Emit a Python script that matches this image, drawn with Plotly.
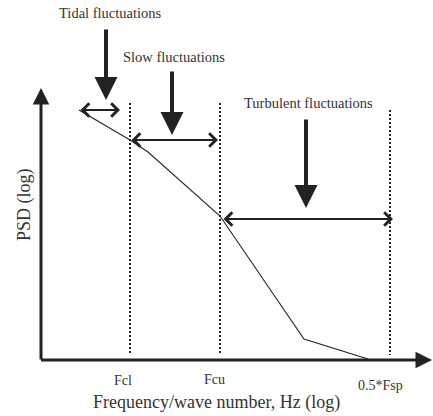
import plotly.graph_objects as go

# ---- data (schematic spectrum, arbitrary log units) ----
spec_x = [38, 89, 107, 179, 263, 327]
spec_y = [250, 220, 208, 144, 21, 1]

cut_x = [89, 179, 349]
cut_labels = ["Fcl", "Fcu", "0.5*Fsp"]

band_labels = ["Tidal fluctuations", "Slow fluctuations", "Turbulent fluctuations"]

FONT = "Liberation Serif"
INK = "#222222"
TXT = "#333333"

fig = go.Figure()
fig.add_trace(go.Scatter(x=spec_x, y=spec_y, mode="lines",
                         line=dict(color=INK, width=1.1), hoverinfo="skip",
                         showlegend=False))

shapes = []
ann = []

# dotted cutoff lines
dot_tops = [257, 257, 250]
for cx, top in zip(cut_x, dot_tops):
    shapes.append(dict(type="line", xref="x", yref="y", x0=cx, x1=cx, y0=top, y1=5,
                       line=dict(color=INK, width=2, dash="2px,2px")))

# axis arrows
ann.append(dict(x=0, y=272, ax=0, ay=-1, xref="x", yref="y", axref="x", ayref="y",
                showarrow=True, arrowhead=2, arrowsize=1.1, arrowwidth=3,
                arrowcolor=INK, standoff=0, text=""))
ann.append(dict(x=391, y=0, ax=-1.5, ay=0, xref="x", yref="y", axref="x", ayref="y",
                showarrow=True, arrowhead=2, arrowsize=1.1, arrowwidth=3,
                arrowcolor=INK, standoff=0, text=""))

# double arrows spanning bands
band_x0 = [spec_x[0], cut_x[0], cut_x[1] + 2]
band_x1 = [cut_x[0] - 10, cut_x[1] - 2, cut_x[2] + 3]
band_y = [250, 220, 141]
for x0, x1, yy in zip(band_x0, band_x1, band_y):
    ann.append(dict(x=x1, y=yy, ax=x0, ay=yy, xref="x", yref="y", axref="x", ayref="y",
                    showarrow=True, arrowhead=4, startarrowhead=4, arrowside="end+start",
                    arrowsize=1.3, startarrowsize=1.3, arrowwidth=2,
                    arrowcolor=INK, standoff=0, startstandoff=0, text=""))

# big down arrows
big_x = [65, 131, 265]
big_top = [332, 290, 242]
big_tip = [260, 225, 152]
for bx, t0, t1 in zip(big_x, big_top, big_tip):
    ann.append(dict(x=bx, y=t1, ax=bx, ay=t0, xref="x", yref="y", axref="x", ayref="y",
                    showarrow=True, arrowhead=2, arrowsize=1.15, arrowwidth=4,
                    arrowcolor=INK, standoff=0, text=""))

# band labels
lab_pos = [(69, 347), (133, 303), (267, 257)]
for (lx, ly), t in zip(lab_pos, band_labels):
    ann.append(dict(x=lx, y=ly, xref="x", yref="y", text=t, showarrow=False,
                    font=dict(family=FONT, size=14.5, color=TXT)))

# cutoff labels
cut_lab_y = [-20, -19, -25]
cut_lab_x = [82, 173, 339]
for lx, ly, t in zip(cut_lab_x, cut_lab_y, cut_labels):
    ann.append(dict(x=lx, y=ly, xref="x", yref="y", text=t, showarrow=False,
                    font=dict(family=FONT, size=14, color=TXT)))

# axis titles
ann.append(dict(x=175, y=-42, xref="x", yref="y", text="Frequency/wave number, Hz (log)",
                showarrow=False, font=dict(family=FONT, size=18, color=TXT)))
ann.append(dict(x=-17, y=155, xref="x", yref="y", text="PSD (log)", textangle=-90,
                showarrow=False, font=dict(family=FONT, size=18, color=TXT)))

fig.update_layout(
    width=433, height=416,
    margin=dict(l=0, r=0, t=0, b=0),
    paper_bgcolor="white", plot_bgcolor="white",
    xaxis=dict(range=[-41, 392], visible=False, fixedrange=True),
    yaxis=dict(range=[-56, 360], visible=False, fixedrange=True),
    shapes=shapes, annotations=ann, showlegend=False,
)

fig.write_html("out.html")
